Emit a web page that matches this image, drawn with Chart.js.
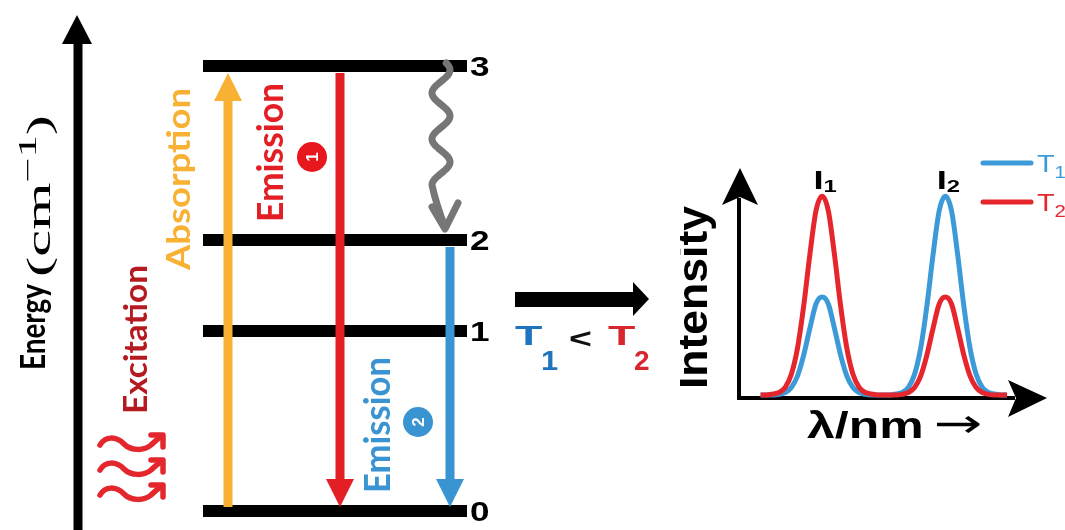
<!DOCTYPE html>
<html>
<head>
<meta charset="utf-8">
<script src="https://cdn.jsdelivr.net/npm/chart.js@4.4.1/dist/chart.umd.min.js"></script>
<style>
  html, body { margin: 0; padding: 0; background: #fff; }
  #wrap { position: relative; width: 1065px; height: 530px; overflow: hidden; background: #fff; }
  #diagram { position: absolute; left: 0; top: 0; }
  #spectrum { position: absolute; left: 680px; top: 140px; }
</style>
</head>
<body>
<div id="wrap">
  <canvas id="diagram" width="1065" height="530"></canvas>
  <canvas id="spectrum" width="385" height="320"></canvas>
</div>
<script>
// ---- Energy-level scheme (energies in cm^-1 above the ground state) ----
const levelNames = ['0', '1', '2', '3'];
const levelEnergy = [0, 1800, 2710, 4450];
const levelSpan = [20.3, 46.7];            // horizontal extent of every level bar

// Transitions between levels: absorption, two emissions, non-radiative relaxation
const transitionFrom = [0, 3, 2, 3];
const transitionTo = [3, 0, 0, 2];
const transitionX = [22.8, 34.0, 45.0, 44.1];
const transitionColors = ['#F8B133', '#E31E25', '#3A94D1', '#767676'];
const energyAxisX = 7.8;

// ---- Emission spectra at the two temperatures ----
const wavelength = [7, 9, 11, 13, 15, 17, 19, 21, 23, 25, 27, 29, 31, 33, 35, 37, 39, 41, 43, 45, 47,
                    49, 51, 53, 55, 57, 59, 61, 63, 65, 67, 69, 71, 73, 75, 77, 79, 81, 83, 85, 87];
const intensityT1 = [0.015, 0.015, 0.015, 0.018, 0.027, 0.052, 0.110, 0.213, 0.345, 0.466, 0.500,
                     0.466, 0.345, 0.213, 0.110, 0.052, 0.027, 0.018, 0.015, 0.015, 0.015,
                     0.015, 0.020, 0.027, 0.053, 0.118, 0.248, 0.456, 0.710, 0.928, 1.000,
                     0.928, 0.710, 0.456, 0.248, 0.118, 0.053, 0.027, 0.020, 0.015, 0.015];
const intensityT2 = [0.015, 0.015, 0.020, 0.027, 0.053, 0.118, 0.248, 0.456, 0.710, 0.928, 1.000,
                     0.928, 0.710, 0.456, 0.248, 0.118, 0.053, 0.027, 0.020, 0.015, 0.015,
                     0.015, 0.015, 0.018, 0.027, 0.052, 0.110, 0.213, 0.345, 0.466, 0.500,
                     0.466, 0.345, 0.213, 0.110, 0.052, 0.027, 0.018, 0.015, 0.015, 0.015];
const seriesNames = ['T1', 'T2'];
const seriesColors = ['#3D9AD8', '#E5262D'];
const peakWavelength = [27, 67];
const peakNames = ['1', '2'];

// Draws a run of text pieces along one baseline; optional rotation, stretch or fitted length
function drawText(ctx, parts, x, y, o) {
  ctx.save();
  ctx.translate(x, y);
  if (o.rot) ctx.rotate(o.rot);
  let total = 0;
  for (const p of parts) { ctx.font = p.font || o.font; p.w = ctx.measureText(p.t).width; total += p.w + (p.gap || 0); }
  const sx = o.len ? o.len / total : (o.sx || 1);
  ctx.scale(sx, 1);
  let cx = o.align === 'center' ? -total / 2 : (o.align === 'right' ? -total : 0);
  ctx.textAlign = 'left';
  ctx.textBaseline = 'alphabetic';
  for (const p of parts) {
    ctx.font = p.font || o.font;
    ctx.fillStyle = p.color || o.color || '#000';
    ctx.fillText(p.t, cx, p.dy || 0);
    cx += p.w + (p.gap || 0);
  }
  ctx.restore();
}

function straightArrow(ctx, x, yStart, yTip, color, headLen, headHalf, width) {
  const dir = Math.sign(yTip - yStart);
  const base = yTip - dir * headLen;
  ctx.strokeStyle = color;
  ctx.lineWidth = width;
  ctx.lineCap = 'butt';
  ctx.beginPath();
  ctx.moveTo(x, yStart);
  ctx.lineTo(x, base + dir);
  ctx.stroke();
  ctx.fillStyle = color;
  ctx.beginPath();
  ctx.moveTo(x, yTip);
  ctx.lineTo(x - headHalf, base);
  ctx.lineTo(x + headHalf, base);
  ctx.closePath();
  ctx.fill();
}

const UP = -Math.PI / 2;
const SANS_B = '"Liberation Sans", Arial, sans-serif';

const diagramDecor = {
  id: 'diagramDecor',
  afterDatasetsDraw(chart) {
    const ctx = chart.ctx, xs = chart.scales.x, ys = chart.scales.y;
    ctx.save();

    // energy axis with arrow head
    const ax = xs.getPixelForValue(energyAxisX);
    ctx.strokeStyle = '#000'; ctx.lineWidth = 9;
    ctx.beginPath(); ctx.moveTo(ax, chart.chartArea.bottom); ctx.lineTo(ax, 42); ctx.stroke();
    ctx.fillStyle = '#000';
    ctx.beginPath(); ctx.moveTo(ax - 1, 15); ctx.lineTo(ax - 16, 44); ctx.lineTo(ax + 14, 44); ctx.closePath(); ctx.fill();

    // radiative transitions
    for (let i = 0; i < 3; i++) {
      const x = xs.getPixelForValue(transitionX[i]);
      const yF = ys.getPixelForValue(levelEnergy[transitionFrom[i]]);
      const yT = ys.getPixelForValue(levelEnergy[transitionTo[i]]);
      const up = yT < yF;
      straightArrow(ctx, x, yF + (up ? -4 : 7), yT + (up ? 7 : -4), transitionColors[i], 28, 14, 9);
    }

    // non-radiative relaxation (wavy grey arrow)
    const gx = xs.getPixelForValue(transitionX[3]);
    const gTop = ys.getPixelForValue(levelEnergy[transitionFrom[3]]);
    const gBot = ys.getPixelForValue(levelEnergy[transitionTo[3]]);
    const tipY = gBot - 11;
    ctx.strokeStyle = transitionColors[3];
    ctx.lineWidth = 7; ctx.lineCap = 'round'; ctx.lineJoin = 'round';
    ctx.beginPath();
    for (let y = gTop - 3; y <= gTop + 119; y += 1) {
      const x = gx - 9 * Math.cos(Math.PI * (y - (gTop + 27)) / 23);
      if (y === gTop - 3) ctx.moveTo(x, y); else ctx.lineTo(x, y);
    }
    ctx.quadraticCurveTo(gx - 5, tipY - 25, gx + 4, tipY - 2);
    ctx.stroke();
    ctx.beginPath();
    ctx.moveTo(gx - 9, tipY - 22); ctx.lineTo(gx + 4, tipY); ctx.lineTo(gx + 17, tipY - 26);
    ctx.stroke();

    // excitation light (three red squiggles)
    ctx.strokeStyle = '#E4272C'; ctx.lineWidth = 5.5;
    [444, 469, 494].forEach(yc => {
      ctx.beginPath();
      ctx.moveTo(100, yc + 1);
      ctx.bezierCurveTo(105, yc - 8, 116, yc - 8, 124, yc);
      ctx.bezierCurveTo(131, yc + 7, 144, yc + 7, 151, yc + 1);
      ctx.quadraticCurveTo(156, yc - 4, 162, yc - 8);
      ctx.stroke();
      ctx.beginPath();
      ctx.moveTo(151, yc - 9); ctx.lineTo(163, yc - 9); ctx.lineTo(163, yc + 3);
      ctx.stroke();
    });

    // level numbers
    levelEnergy.forEach((E, i) => {
      drawText(ctx, [{ t: levelNames[i] }], xs.getPixelForValue(levelSpan[1]) + 3, ys.getPixelForValue(E) + 10,
        { font: 'bold 27px ' + SANS_B, sx: 1.3, color: '#000' });
    });

    // rotated labels
    drawText(ctx, [{ t: 'Energy' }], 45, 370, { rot: UP, len: 86, font: 'bold 34px Lato', color: '#000' });
    drawText(ctx, [
      { t: '(cm', font: '34px "Liberation Serif"' },
      { t: '\u22121', font: '25px "Liberation Serif"', dy: -14 },
      { t: ')', font: '34px "Liberation Serif"' }
    ], 50, 277, { rot: UP, len: 162, color: '#000' });
    drawText(ctx, [{ t: 'Absorption' }], 190, 270, { rot: UP, len: 182, font: 'bold 33px Lato', color: '#F8B133' });
    drawText(ctx, [{ t: 'Emission' }], 283, 222, { rot: UP, len: 139, font: 'bold 36px Lato', color: '#E31E25' });
    drawText(ctx, [{ t: 'Excitation' }], 147, 414, { rot: UP, len: 149, font: 'bold 32px Lato', color: '#B51A20' });
    drawText(ctx, [{ t: 'Emission' }], 390, 493, { rot: UP, len: 136, font: 'bold 36px Lato', color: '#3A94D1' });

    // numbered badges
    [[312, 157, '#E8161D', '1'], [418, 422, '#3A94D1', '2']].forEach(([cx, cy, col, n]) => {
      ctx.fillStyle = col;
      ctx.beginPath(); ctx.arc(cx, cy, 15, 0, Math.PI * 2); ctx.fill();
      ctx.save();
      ctx.translate(cx, cy); ctx.rotate(UP);
      ctx.fillStyle = '#fff'; ctx.font = 'bold 17px ' + SANS_B;
      ctx.textAlign = 'center'; ctx.textBaseline = 'middle';
      ctx.fillText(n, 0, 1);
      ctx.restore();
    });

    // arrow leading to the spectra, and the temperature relation
    ctx.fillStyle = '#000';
    ctx.fillRect(515, 292, 119, 15);
    ctx.beginPath(); ctx.moveTo(633, 282); ctx.lineTo(649, 299); ctx.lineTo(633, 316); ctx.closePath(); ctx.fill();
    const relFont = 'bold 28px ' + SANS_B;
    drawText(ctx, [{ t: 'T' }], 515, 345, { font: relFont, sx: 1.6, color: '#1F74BE' });
    drawText(ctx, [{ t: '1' }], 541, 370, { font: relFont, sx: 1.1, color: '#1F74BE' });
    drawText(ctx, [{ t: '<' }], 569, 348, { font: relFont, sx: 1.4, color: '#111' });
    drawText(ctx, [{ t: 'T' }], 608, 345, { font: relFont, sx: 1.6, color: '#D7262E' });
    drawText(ctx, [{ t: '2' }], 634, 370, { font: relFont, sx: 1.0, color: '#D7262E' });

    ctx.restore();
  }
};

new Chart(document.getElementById('diagram'), {
  type: 'line',
  data: {
    datasets: levelEnergy.map((E, i) => ({
      label: 'Level ' + levelNames[i],
      data: levelSpan.map(x => ({ x, y: E })),
      borderColor: '#000',
      borderWidth: 12,
      borderCapStyle: 'butt',
      pointRadius: 0,
      fill: false
    }))
  },
  options: {
    responsive: false,
    animation: false,
    devicePixelRatio: 1,
    layout: { padding: 0 },
    scales: {
      x: { type: 'linear', min: 0, max: 106.5, display: false },
      y: { type: 'linear', min: -190, max: 5110, display: false }
    },
    plugins: { legend: { display: false }, tooltip: { enabled: false } }
  },
  plugins: [diagramDecor]
});

const spectrumDecor = {
  id: 'spectrumDecor',
  beforeDatasetsDraw(chart) {
    const ctx = chart.ctx, a = chart.chartArea;
    ctx.save();
    ctx.strokeStyle = '#000'; ctx.fillStyle = '#000'; ctx.lineWidth = 4; ctx.lineCap = 'butt';
    // axes
    ctx.beginPath(); ctx.moveTo(a.left, a.bottom + 2); ctx.lineTo(a.left, a.top + 30); ctx.stroke();
    ctx.beginPath(); ctx.moveTo(a.left - 2, a.bottom); ctx.lineTo(a.right - 32, a.bottom); ctx.stroke();
    ctx.beginPath();
    ctx.moveTo(a.left + 1, a.top); ctx.lineTo(a.left - 17, a.top + 37); ctx.lineTo(a.left + 1, a.top + 29);
    ctx.lineTo(a.left + 19, a.top + 37); ctx.closePath(); ctx.fill();
    ctx.beginPath();
    ctx.moveTo(a.right, a.bottom); ctx.lineTo(a.right - 39, a.bottom - 18); ctx.lineTo(a.right - 31, a.bottom);
    ctx.lineTo(a.right - 39, a.bottom + 19); ctx.closePath(); ctx.fill();
    ctx.restore();
  },
  afterDatasetsDraw(chart) {
    const ctx = chart.ctx, xs = chart.scales.x, ys = chart.scales.y;
    ctx.save();
    // axis titles
    drawText(ctx, [{ t: 'Intensity' }], 27, 249, { rot: UP, len: 183, font: 'bold 42px ' + SANS_B, color: '#000' });
    drawText(ctx, [{ t: '\u03BB/nm' }], 127, 298, { sx: 1.35, font: 'bold 37px ' + SANS_B, color: '#000' });
    drawText(ctx, [{ t: '\u2192' }], 254, 297, { sx: 1.45, font: '40px "DejaVu Sans"', color: '#000' });
    // peak labels
    peakWavelength.forEach((lam, k) => {
      const idx = wavelength.indexOf(lam);
      const top = Math.max(intensityT1[idx], intensityT2[idx]);
      drawText(ctx, [
        { t: 'I', font: 'bold 26px ' + SANS_B },
        { t: peakNames[k], font: 'bold 17px ' + SANS_B, dy: 3 }
      ], xs.getPixelForValue(lam) + 3, ys.getPixelForValue(top) - 7, { align: 'center', sx: 1.4, color: '#000' });
    });
    // legend
    seriesNames.forEach((name, k) => {
      const y = [23, 62][k];
      ctx.strokeStyle = seriesColors[k]; ctx.lineWidth = 5; ctx.lineCap = 'round';
      ctx.beginPath(); ctx.moveTo(303, y); ctx.lineTo(351, y); ctx.stroke();
      drawText(ctx, [
        { t: name.charAt(0), font: '24px ' + SANS_B },
        { t: name.slice(1), font: '17px ' + SANS_B, dy: 6 }
      ], 357, y + 9, { sx: 1.2, color: seriesColors[k] });
    });
    ctx.restore();
  }
};

new Chart(document.getElementById('spectrum'), {
  type: 'line',
  data: {
    datasets: [
      {
        label: seriesNames[1],
        data: wavelength.map((x, i) => ({ x, y: intensityT2[i] })),
        borderColor: seriesColors[1], borderWidth: 5, pointRadius: 0,
        cubicInterpolationMode: 'monotone', fill: false, order: 0
      },
      {
        label: seriesNames[0],
        data: wavelength.map((x, i) => ({ x, y: intensityT1[i] })),
        borderColor: seriesColors[0], borderWidth: 5, pointRadius: 0,
        cubicInterpolationMode: 'monotone', fill: false, order: 1
      }
    ]
  },
  options: {
    responsive: false,
    animation: false,
    devicePixelRatio: 1,
    layout: { padding: { left: 59, right: 18, top: 28, bottom: 62 } },
    scales: {
      x: { type: 'linear', min: 0, max: 100, display: false },
      y: { type: 'linear', min: 0, max: 1.14, display: false }
    },
    plugins: { legend: { display: false }, tooltip: { enabled: false } }
  },
  plugins: [spectrumDecor]
});
</script>
</body>
</html>
